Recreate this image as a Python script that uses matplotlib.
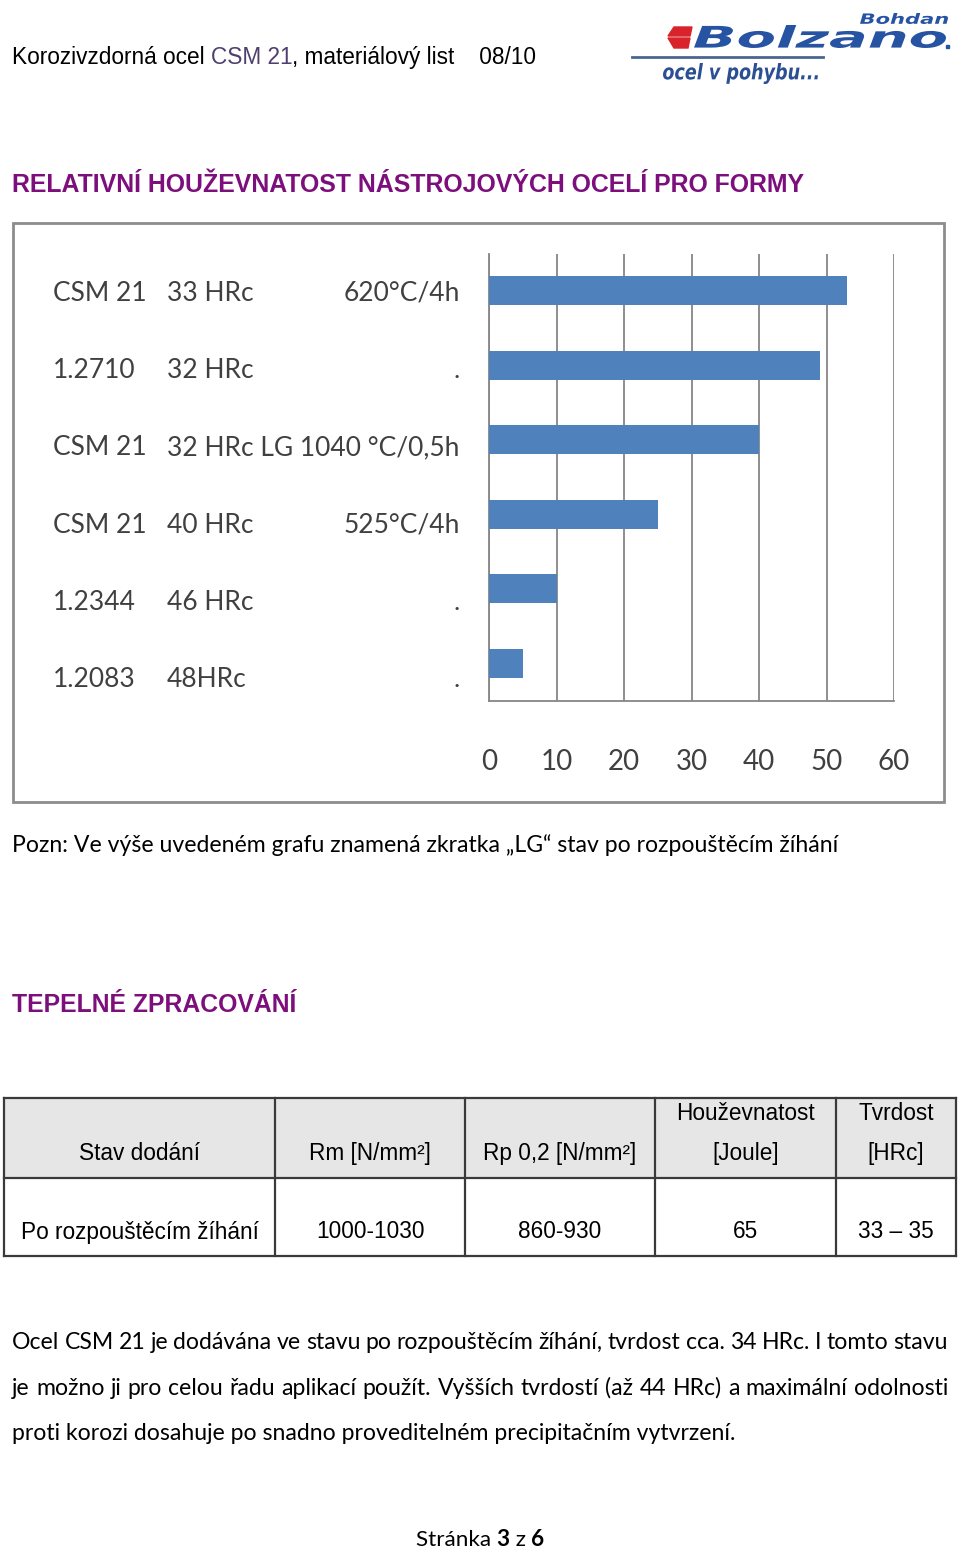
import matplotlib
matplotlib.use('Agg')
import matplotlib.pyplot as plt
import numpy as np
from matplotlib.transforms import blended_transform_factory, Affine2D
from matplotlib.patches import Rectangle, Polygon, PathPatch
from matplotlib.textpath import TextPath
from matplotlib.font_manager import FontProperties

W, H, DPI = 960, 1548, 100

# ---------------- data ----------------
steels = ["CSM 21", "1.2710", "CSM 21", "CSM 21", "1.2344", "1.2083"]
hardness = ["33 HRc", "32 HRc", "32 HRc LG 1040 °C/0,5h", "40 HRc", "46 HRc", "48HRc"]
treatments = ["620°C/4h", ".", "", "525°C/4h", ".", "."]
toughness = [53, 49, 40, 25, 10, 5]
x_ticks = [0, 10, 20, 30, 40, 50, 60]

table_head_1 = ["", "", "", "Houževnatost", "Tvrdost"]
table_head_2 = ["Stav dodání", "Rm [N/mm²]", "Rp 0,2 [N/mm²]", "[Joule]", "[HRc]"]
table_row = ["Po rozpouštěcím žíhání", "1000-1030", "860-930", "65", "33 – 35"]

header_runs = [("Korozivzdorná ocel ", "#000000"), ("CSM 21", "#4f3f6f"),
               (", materiálový list    08/10", "#000000")]
title_1 = "RELATIVNÍ HOUŽEVNATOST NÁSTROJOVÝCH OCELÍ PRO FORMY"
note = "Pozn: Ve výše uvedeném grafu znamená zkratka „LG“ stav po rozpouštěcím žíhání"
title_2 = "TEPELNÉ ZPRACOVÁNÍ"
paragraph = ["Ocel CSM 21 je dodávána ve stavu po rozpouštěcím žíhání, tvrdost cca. 34 HRc. I tomto stavu",
             "je možno ji pro celou řadu aplikací použít. Vyšších tvrdostí (až 44 HRc) a maximální odolnosti",
             "proti korozi dosahuje po snadno proveditelném precipitačním vytvrzení."]
footer_runs = [("Stránka ", "normal"), ("3", "bold"), (" z ", "normal"), ("6", "bold")]

ARIAL = ['Liberation Sans Narrow', 'Liberation Sans', 'DejaVu Sans']
CALIBRI = ['Lato', 'DejaVu Sans']
PURPLE = '#7d0f7d'
LOGO_BLUE = '#2753a3'

fig = plt.figure(figsize=(W / DPI, H / DPI), dpi=DPI)
fig.patch.set_facecolor('white')
page = fig.add_axes([0, 0, 1, 1])
page.set_xlim(0, W)
page.set_ylim(H, 0)
page.axis('off')
renderer = fig.canvas.get_renderer()


def width_of(t):
    return t.get_window_extent(renderer).width


def fit(x, y, s, width, ha='left', va='baseline', **kw):
    t = page.text(x, y, s, ha=ha, va=va, **kw)
    t.set_fontsize(t.get_fontsize() * width / width_of(t))
    return t


def fit_size(s, width, **kw):
    t = page.text(0, 0, s, **kw)
    fs = t.get_fontsize() * width / width_of(t)
    t.remove()
    return fs


def runs(x, y, items, fs, **kw):
    for s, extra in items:
        t = page.text(x, y, s, fontsize=fs, va='baseline', ha='left', **extra, **kw)
        x += width_of(t)


def box_text(s, x0, x1, ytop, ybot, fp, color):
    tp = TextPath((0, 0), s, size=100, prop=fp)
    bb = tp.get_extents()
    sx = (x1 - x0) / bb.width
    sy = (ybot - ytop) / bb.height
    tr = Affine2D().translate(-bb.x0, -bb.y0).scale(sx, -sy).translate(x0, ybot)
    page.add_patch(PathPatch(tr.transform_path(tp), facecolor=color, edgecolor='none'))


# ---------------- header ----------------
hs = fit_size("".join(r[0] for r in header_runs), 525, family=ARIAL)
runs(12, 64, [(s, dict(color=c)) for s, c in header_runs], hs, family=ARIAL)

# logo
logo_fp = FontProperties(family='DejaVu Sans', weight='bold', style='italic')
page.add_patch(Polygon([[674, 27], [692, 27], [690, 36], [668, 36]], closed=True, color='#d8232a'))
page.add_patch(Polygon([[668, 38], [690, 38], [688, 48], [674, 48]], closed=True, color='#d8232a'))
box_text("Bolzano", 694, 946, 25, 48, logo_fp, LOGO_BLUE)
page.add_patch(Rectangle((946, 45), 3, 3, color=LOGO_BLUE))
box_text("Bohdan", 860, 948, 13, 24, logo_fp, LOGO_BLUE)
page.plot([632, 823], [57, 57], color='#4a6690', lw=2)
box_text("ocel v pohybu...", 663, 818, 63, 84, logo_fp, '#2b4f93')

# ---------------- title ----------------
fit(12, 192, title_1, 794, family=ARIAL, weight='bold', color=PURPLE)

# ---------------- chart ----------------
page.add_patch(Rectangle((13, 223), 931, 579, fill=False, edgecolor='#8c8c8c', lw=2))

ax = fig.add_axes([489.3 / W, 1 - 700.5 / H, (894 - 489.3) / W, (700.5 - 253.5) / H])
ypos = np.arange(len(toughness))
ax.barh(ypos, toughness, height=0.39, color='#4f81bd', zorder=3)
ax.set_xlim(0, 60)
ax.set_ylim(len(toughness) - 0.5, -0.5)
ax.set_xticks(x_ticks)
ax.set_yticks([])
ax.grid(axis='x', color='#868686', lw=1.3, zorder=0)
ax.set_axisbelow(True)
for sp in ['top', 'right']:
    ax.spines[sp].set_visible(False)
for sp in ['left', 'bottom']:
    ax.spines[sp].set_color('#868686')
    ax.spines[sp].set_linewidth(1.3)
ax.set_facecolor('none')

cfs = fit_size("32 HRc LG 1040 °C/0,5h", 292, family=CALIBRI)
ax.tick_params(axis='x', length=0, pad=35, labelsize=cfs * 1.05, labelcolor='#404040')
for lbl in ax.get_xticklabels():
    lbl.set_family(CALIBRI)

# category labels sit on their own (slightly taller) row scale, as in the original
lab_top, lab_step = 291, 77.2
lab_ax = fig.add_axes([0, 1 - (lab_top + lab_step * 5.5) / H, 1, lab_step * 6 / H])
lab_ax.set_ylim(len(steels) - 0.5, -0.5)
lab_ax.set_xlim(0, W)
lab_ax.axis('off')
for i in range(len(steels)):
    lab_ax.text(53, i, steels[i], ha='left', va='center_baseline', fontsize=cfs,
                family=CALIBRI, color='#404040')
    lab_ax.text(167, i, hardness[i], ha='left', va='center_baseline', fontsize=cfs,
                family=CALIBRI, color='#404040')
    if treatments[i]:
        lab_ax.text(460, i, treatments[i], ha='right', va='center_baseline', fontsize=cfs,
                    family=CALIBRI, color='#404040')

# ---------------- note ----------------
fit(12, 852, note, 821, family=CALIBRI, color='#000000')

# ---------------- second title ----------------
fit(12, 1012, title_2, 284, family=ARIAL, weight='bold', color=PURPLE)

# ---------------- table ----------------
col_edges = [4, 275, 465, 655, 836, 956]
row_edges = [1098, 1178, 1256]
page.add_patch(Rectangle((col_edges[0], row_edges[0]), col_edges[-1] - col_edges[0],
                         row_edges[1] - row_edges[0], facecolor='#e6e6e6', edgecolor='none'))
for yy in row_edges:
    page.plot([col_edges[0], col_edges[-1]], [yy, yy], color='#3a3a3a', lw=1.6, solid_capstyle='projecting')
for xx in col_edges:
    page.plot([xx, xx], [row_edges[0], row_edges[-1]], color='#3a3a3a', lw=1.6, solid_capstyle='projecting')

tfs = fit_size(table_row[0], 238, family=ARIAL)
centers = [(col_edges[i] + col_edges[i + 1]) / 2 for i in range(len(col_edges) - 1)]
for i, c in enumerate(centers):
    if table_head_1[i]:
        page.text(c, 1120, table_head_1[i], ha='center', va='baseline', fontsize=tfs, family=ARIAL)
    page.text(c, 1160, table_head_2[i], ha='center', va='baseline', fontsize=tfs, family=ARIAL)
    page.text(c, 1238.5, table_row[i], ha='center', va='baseline', fontsize=tfs, family=ARIAL)

# ---------------- paragraph ----------------
pfs = fit_size(paragraph[2], 725, family=CALIBRI)
baselines = [1349, 1395, 1440]


def justify(line, y, x0, x1, fs):
    words = line.split(' ')
    ts = [page.text(0, y, w, fontsize=fs, family=CALIBRI, va='baseline', ha='left') for w in words]
    ws = [width_of(t) for t in ts]
    gap = (x1 - x0 - sum(ws)) / (len(words) - 1)
    x = x0
    for t, w in zip(ts, ws):
        t.set_x(x)
        x += w + gap


justify(paragraph[0], baselines[0], 12, 948, pfs)
justify(paragraph[1], baselines[1], 12, 948, pfs)
page.text(12, baselines[2], paragraph[2], fontsize=pfs, family=CALIBRI, va='baseline', ha='left')

# ---------------- footer ----------------
ffs = fit_size("Stránka 3 z 6", 128, family=CALIBRI)
tmp = [page.text(0, 0, s, fontsize=ffs, family=CALIBRI, weight=wt) for s, wt in footer_runs]
total = sum(width_of(t) for t in tmp)
for t in tmp:
    t.remove()
runs(480 - total / 2, 1546, [(s, dict(weight=wt)) for s, wt in footer_runs], ffs, family=CALIBRI)

fig.savefig('out.png', dpi=DPI, facecolor='white')
